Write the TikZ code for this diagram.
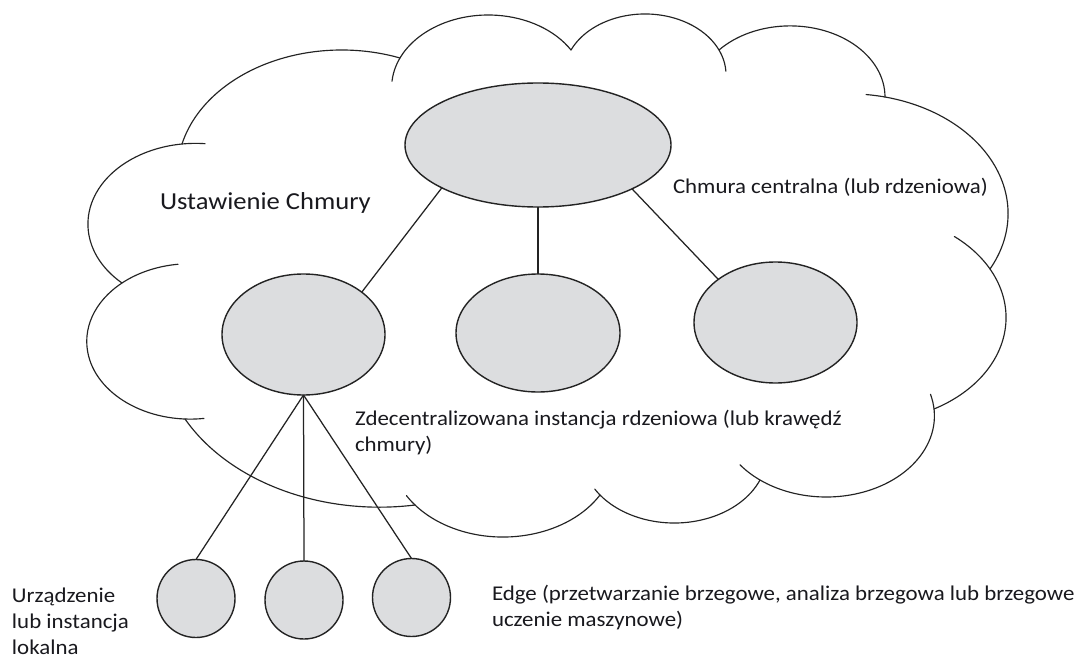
\documentclass[tikz,border=0pt]{standalone}
\usepackage{fontspec}
\setmainfont{Carlito}[FakeStretch=1.09]
\usepackage{xfp}
\usetikzlibrary{shapes.geometric}

\definecolor{shapefill}{RGB}{220,221,223}
\definecolor{inkline}{RGB}{35,35,35}
\definecolor{inktext}{RGB}{25,25,30}

% vertical squash of the cloud lobes (y radius / x radius)
\newcommand\cloudk{0.75}

% One lobe of the cloud: an elliptic arc from (#1,#2) to (#3,#4), running
% clockwise through (#5,#6). Coordinates are given with y growing downwards.
% #7 and #8 lengthen the arc beyond its start and its end.
\newcommand\cloudlobe[8]{%
  \edef\lxa{\fpeval{#1}}%
  \edef\lya{\fpeval{(#2)/\cloudk}}%
  \edef\lxb{\fpeval{#3}}%
  \edef\lyb{\fpeval{(#4)/\cloudk}}%
  \edef\lxc{\fpeval{#5}}%
  \edef\lyc{\fpeval{(#6)/\cloudk}}%
  \edef\lsa{\fpeval{(\lxa)^2+(\lya)^2}}%
  \edef\lsb{\fpeval{(\lxb)^2+(\lyb)^2}}%
  \edef\lsc{\fpeval{(\lxc)^2+(\lyc)^2}}%
  \edef\ld{\fpeval{2*((\lxa)*((\lyb)-(\lyc))+(\lxb)*((\lyc)-(\lya))+(\lxc)*((\lya)-(\lyb)))}}%
  \edef\lux{\fpeval{((\lsa)*((\lyb)-(\lyc))+(\lsb)*((\lyc)-(\lya))+(\lsc)*((\lya)-(\lyb)))/(\ld)}}%
  \edef\luy{\fpeval{((\lsa)*((\lxc)-(\lxb))+(\lsb)*((\lxa)-(\lxc))+(\lsc)*((\lxb)-(\lxa)))/(\ld)}}%
  \edef\lr{\fpeval{sqrt(((\lxa)-(\lux))^2+((\lya)-(\luy))^2)}}%
  \edef\lta{\fpeval{atand((\luy)-(\lya),(\lxa)-(\lux))}}%
  \edef\ltb{\fpeval{atand((\luy)-(\lyb),(\lxb)-(\lux))}}%
  \edef\ltc{\fpeval{atand((\luy)-(\lyc),(\lxc)-(\lux))}}%
  \edef\lta{\fpeval{(\ltc)+((\lta)-(\ltc))-360*floor(((\lta)-(\ltc))/360)}}%
  \edef\ltb{\fpeval{(\ltc)-(((\ltc)-(\ltb))-360*floor(((\ltc)-(\ltb))/360))}}%
  \edef\lta{\fpeval{round((\lta)+(#7)/sqrt(((\lr)*sind(\lta))^2+(\cloudk*(\lr)*cosd(\lta))^2)*180/pi,4)}}%
  \edef\ltb{\fpeval{round((\ltb)-(#8)/sqrt(((\lr)*sind(\ltb))^2+(\cloudk*(\lr)*cosd(\ltb))^2)*180/pi,4)}}%
  \edef\lrb{\fpeval{round(\cloudk*(\lr),4)}}%
  \edef\lcx{\fpeval{\lux}}%
  \edef\lcy{\fpeval{-(\luy)*\cloudk}}%
  \edef\lpx{\fpeval{round((\lcx)+(\lr)*cosd(\lta),4)}}%
  \edef\lpy{\fpeval{round((\lcy)+\cloudk*(\lr)*sind(\lta),4)}}%
  \edef\lr{\fpeval{round(\lr,4)}}%
  \draw[cloudline] (\lpx pt,\lpy pt) arc[start angle=\lta, end angle=\ltb, x radius=\lr pt, y radius=\lrb pt];%
}

\tikzset{
  cloudline/.style={draw=inkline, line width=1.15pt, line cap=round},
  bubble/.style={ellipse, draw=inkline, fill=shapefill, line width=1.4pt, inner sep=0pt, outer sep=0pt},
  device/.style={circle, draw=inkline, fill=shapefill, line width=1.4pt, inner sep=0pt, outer sep=0pt, minimum size=78pt},
  wire/.style={draw=inkline, line width=1.25pt},
  lbl/.style={inner sep=0pt, outer sep=0pt, text=inktext, font=\fontsize{21}{26}\selectfont, align=left},
}

\begin{document}
\begin{tikzpicture}[x=1pt, y=1pt]
  \useasboundingbox (0,0) rectangle (1078,-658);
  \fill[white] (0,0) rectangle (1078,-658);

  % cloud outline
  \cloudlobe{182}{144}{400}{58}{340}{50}{0}{0}
  \cloudlobe{400}{58}{571}{50}{487}{15}{25.6}{0}
  \cloudlobe{571}{50}{719}{50}{643}{14}{0}{23.4}
  \cloudlobe{719}{50}{885}{97}{785}{26}{0}{0}
  \cloudlobe{885}{97}{990}{269}{1008}{210}{19}{0}
  \cloudlobe{990}{269}{934}{409}{1006}{320}{45.8}{0}
  \cloudlobe{934}{409}{760}{480}{828}{497}{15}{26}
  \cloudlobe{760}{480}{600}{495}{673}{523}{0}{8}
  \cloudlobe{600}{495}{415}{505}{506}{537}{0}{13}
  \cloudlobe{415}{505}{185}{419}{300}{496}{0}{0}
  \cloudlobe{185}{419}{122}{283}{87}{347}{19}{56}
  \cloudlobe{122}{283}{182}{144}{88}{227}{0}{23}

  % hierarchy
  \node[bubble, minimum width=266pt, minimum height=124pt] (core) at (538,-145) {};
  \node[bubble, minimum width=163pt, minimum height=121pt] (edgeL) at (303.5,-334.5) {};
  \node[bubble, minimum width=164pt, minimum height=118pt] (edgeM) at (538,-333) {};
  \node[bubble, minimum width=163pt, minimum height=121pt] (edgeR) at (775.5,-322.5) {};
  \node[device] (dev1) at (196,-598.5) {};
  \node[device] (dev2) at (304,-600) {};
  \node[device] (dev3) at (411.5,-597.5) {};

  \draw[wire] (core.204.6) -- (edgeL.36.8);
  \draw[wire] (core.south) -- (edgeM.north);
  \draw[wire] (core.335.4) -- (edgeR.143.4);
  \draw[wire] (edgeL.south) -- (dev1.north);
  \draw[wire] (edgeL.south) -- (dev2.north);
  \draw[wire] (edgeL.south) -- (dev3.north);

  % labels (a multi-line label sits on the baseline of its last line)
  \node[lbl, anchor=base west, font=\fontsize{24.4}{28}\selectfont] (tSetting) at (160,-209) {Ustawienie Chmury};
  \node[lbl, anchor=base west] (tCore) at (673,-193) {Chmura centralna (lub rdzeniowa)};
  \node[lbl, anchor=base west] (tEdge) at (355,-451) {Zdecentralizowana instancja rdzeniowa (lub krawędź\\chmury)};
  \node[lbl, anchor=base west] (tDevice) at (12,-654) {Urządzenie\\lub instancja\\lokalna};
  \node[lbl, anchor=base west] (tEdgeComp) at (492,-626) {Edge (przetwarzanie brzegowe, analiza brzegowa lub brzegowe\\uczenie maszynowe)};
\end{tikzpicture}
\end{document}
